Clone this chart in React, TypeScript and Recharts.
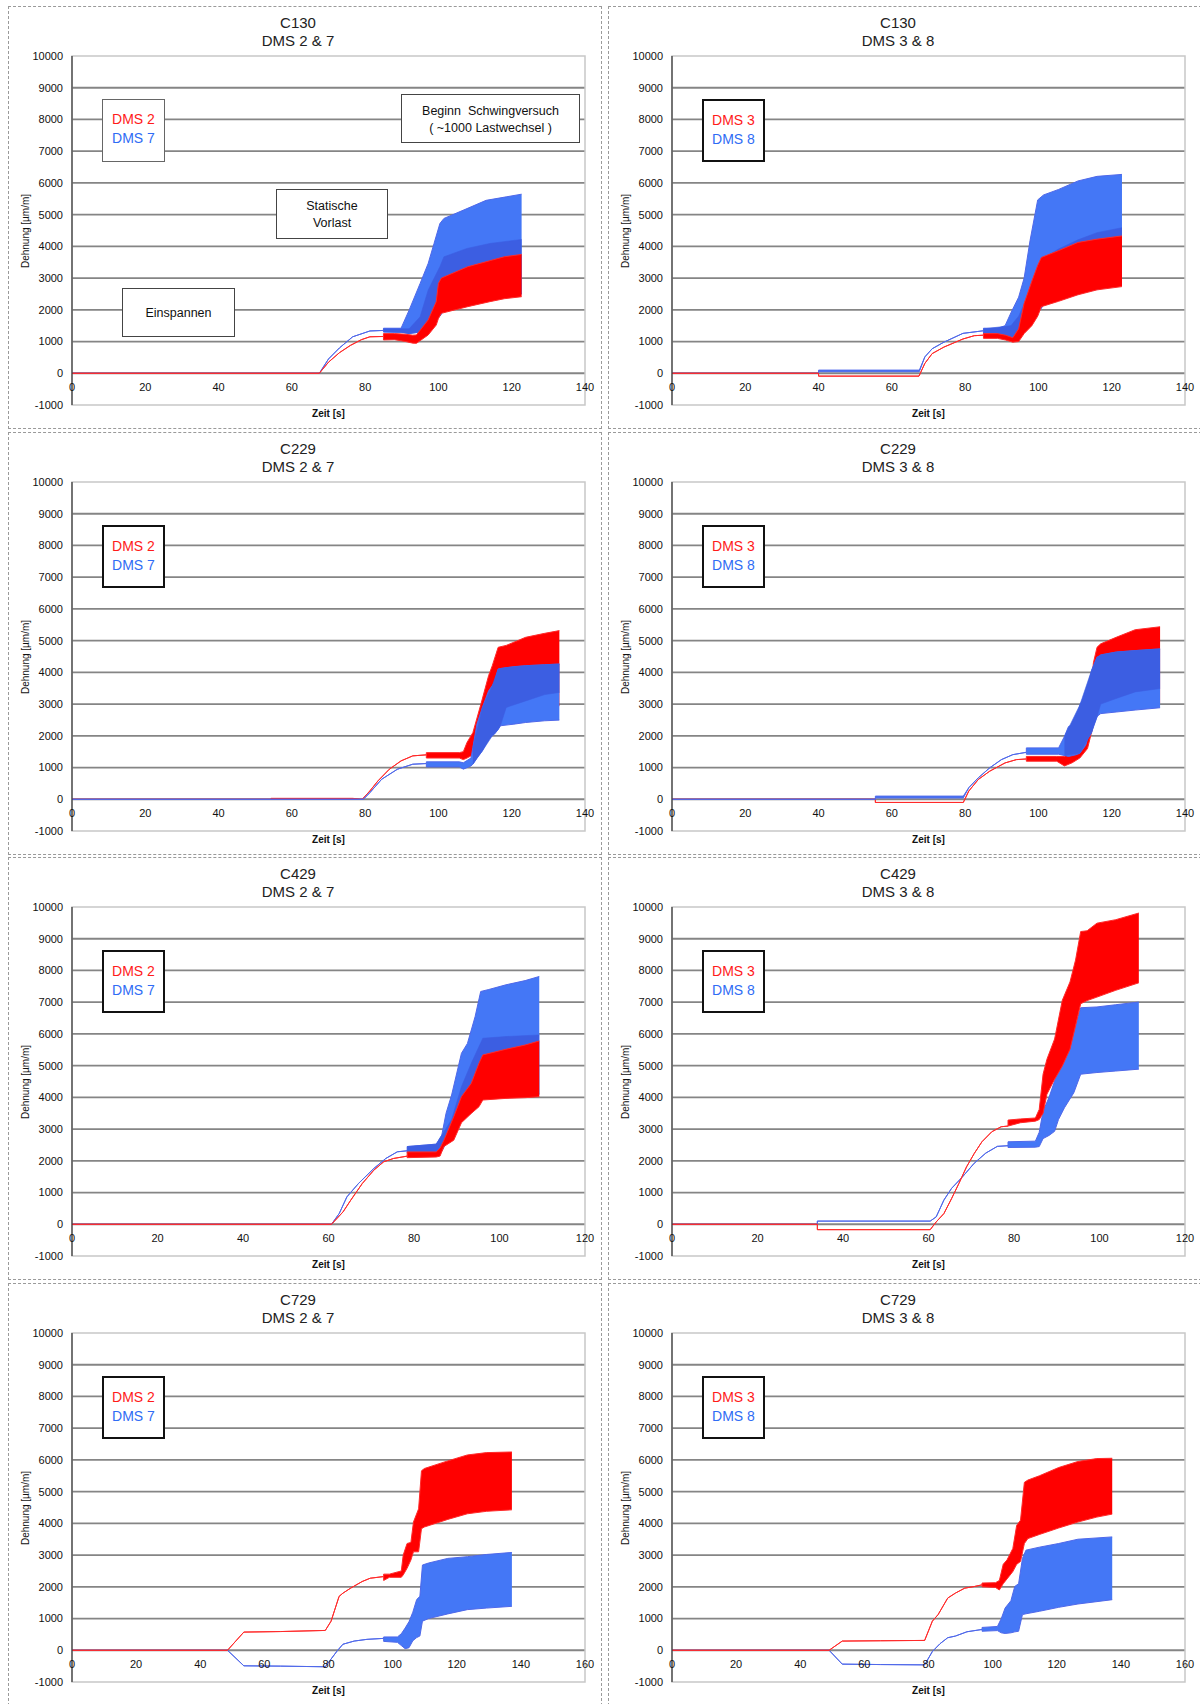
import React from "react";
import {
  ComposedChart,
  Area,
  XAxis,
  YAxis,
  CartesianGrid,
  ReferenceArea,
} from "recharts";

// [time s, lower strain, upper strain]  (lower == upper -> thin line)
type Pt = [number, number, number];

const Y_MIN = -1000;
const Y_MAX = 10000;
const Y_TICKS = [-1000, 0, 1000, 2000, 3000, 4000, 5000, 6000, 7000, 8000, 9000, 10000];
const GRID_VALUES = [0, 1000, 2000, 3000, 4000, 5000, 6000, 7000, 8000, 9000];
const X_TICKS_120 = [0, 20, 40, 60, 80, 100, 120];
const X_TICKS_140 = [0, 20, 40, 60, 80, 100, 120, 140];
const X_TICKS_160 = [0, 20, 40, 60, 80, 100, 120, 140, 160];

// ---- C130 DMS 2 & 7
const C130_27_RED: Pt[] = [
  [0, 0, 0], [67.5, 0, 0], [70, 350, 350], [73, 650, 650], [76, 880, 880], [79, 1060, 1060],
  [81.3, 1150, 1150], [85, 1160, 1160], [85, 1050, 1250], [88, 1060, 1250], [91, 1000, 1230],
  [93, 950, 1200], [94, 944, 1207], [97.2, 1207, 1680], [99.4, 1520, 2256], [100, 1730, 2833],
  [100.8, 1890, 3000], [108, 2100, 3358], [114, 2256, 3547], [118, 2350, 3673], [122.7, 2413, 3746],
];
const C130_27_BLUE: Pt[] = [
  [0, 0, 0], [67.5, 0, 0], [70, 450, 450], [73, 800, 800], [76.6, 1150, 1150], [81.3, 1333, 1333],
  [85, 1350, 1350], [85, 1300, 1420], [89.8, 1300, 1420], [92, 1250, 1990], [95, 1300, 2830],
  [97.2, 1400, 3460], [98.8, 1600, 4090], [100.4, 1800, 4720], [101.5, 2000, 4880],
  [107.8, 2200, 5190], [113, 2330, 5450], [118.5, 2450, 5560], [122.7, 2500, 5645],
];
const C130_27_DENSE: Pt[] = [
  [85, 1300, 1400], [90, 1280, 1400], [92, 1250, 1400], [95, 1300, 1780], [97.2, 1400, 2620],
  [100.4, 1800, 3360], [101.5, 2000, 3670], [107.8, 2200, 3935], [114, 2350, 4090], [122.7, 2500, 4218],
];

// ---- C130 DMS 3 & 8
const C130_38_RED: Pt[] = [
  [0, 0, 0], [40, 0, 0], [40, -90, -90], [67.4, -90, -90], [69, 310, 310], [71, 620, 620],
  [74.2, 825, 825], [79.4, 1080, 1080], [82.5, 1185, 1185], [85, 1200, 1200], [85, 1100, 1250],
  [88.8, 1100, 1250], [91, 1050, 1200], [93, 980, 1120], [94.6, 1000, 1400], [96.1, 1250, 2200],
  [98.2, 1500, 2900], [99.8, 1800, 3400], [100.8, 2100, 3650], [105.5, 2268, 3866],
  [110.8, 2474, 4124], [116, 2629, 4227], [122.8, 2732, 4330],
];
const C130_38_BLUE: Pt[] = [
  [0, 0, 0], [40, 0, 0], [40, 50, 100], [67.5, 50, 100], [69, 515, 515], [71, 773, 773],
  [74.2, 980, 980], [79.4, 1258, 1258], [85, 1340, 1340], [85, 1250, 1420], [89, 1250, 1420],
  [90.9, 1150, 1500], [92.5, 1100, 1907], [94.6, 1150, 2400], [96.1, 1350, 3000],
  [97.7, 1600, 4175], [99.8, 1900, 5464], [101.4, 2150, 5620], [105.5, 2300, 5794],
  [110.8, 2500, 6062], [116, 2650, 6206], [122.8, 2780, 6268],
];
const C130_38_DENSE: Pt[] = [
  [85, 1250, 1400], [92.5, 1100, 1500], [94.6, 1150, 1800], [97.7, 1600, 2600], [99.8, 1900, 3196],
  [101.4, 2150, 3629], [105.5, 2300, 3918], [110.8, 2500, 4206], [116, 2650, 4433], [122.8, 2780, 4588],
];

// ---- C229 DMS 2 & 7
const C229_27_RED: Pt[] = [
  [0, 0, 0], [54.3, 0, 0], [54.3, 0, 30], [76.6, 0, 30], [79.2, 0, 0], [81.3, 263, 263],
  [83.5, 579, 579], [86.6, 947, 947], [89.8, 1210, 1210], [93, 1368, 1368], [96.7, 1400, 1400],
  [96.7, 1300, 1470], [105.7, 1300, 1470], [106.8, 1250, 1500], [107.8, 1300, 1789],
  [109.4, 1400, 2100], [111.6, 1700, 3000], [113.7, 2100, 3900], [114.7, 2300, 4210],
  [116.3, 2600, 4790], [118.5, 2700, 4850], [123.8, 2800, 5105], [129, 2900, 5230], [133, 2950, 5316],
];
const C229_27_BLUE: Pt[] = [
  [0, 0, 0], [79.5, 0, 0], [81.3, 210, 210], [84.5, 630, 630], [88.8, 947, 947], [93, 1105, 1105],
  [96.7, 1126, 1126], [96.7, 1020, 1180], [105.7, 1020, 1180], [106.8, 950, 1150],
  [108.9, 1050, 1300], [109.4, 1105, 1630], [110.5, 1300, 2368], [112, 1526, 2895],
  [113.7, 1895, 3421], [114.7, 2000, 3579], [115.3, 2053, 3700], [116.3, 2200, 4105],
  [116.9, 2316, 4120], [120.6, 2368, 4180], [123.8, 2420, 4210], [129, 2474, 4240], [133, 2495, 4263],
];
const C229_27_DENSE: Pt[] = [
  [109.4, 1105, 1630], [112, 1526, 2895], [114.7, 2000, 3579], [116.3, 2200, 4105],
  [116.9, 2316, 4120], [118.5, 2895, 4150], [123.8, 3100, 4210], [129, 3300, 4240], [133, 3368, 4263],
];

// ---- C229 DMS 3 & 8
const C229_38_RED: Pt[] = [
  [0, 0, 0], [55.5, 0, 0], [55.5, -100, -100], [79.5, -100, -100], [81, 260, 260], [83.6, 625, 625],
  [86.7, 885, 885], [90.9, 1146, 1146], [94, 1250, 1250], [96.7, 1270, 1270], [96.7, 1200, 1350],
  [105, 1200, 1350], [107.1, 1050, 1350], [109.2, 1150, 1500], [111.3, 1300, 1700],
  [113.4, 1600, 2200], [115, 2343, 4300], [116, 2700, 4792], [117, 2800, 4900],
  [121.2, 2900, 5104], [126.4, 3000, 5344], [133.2, 3050, 5437],
];
const C229_38_BLUE: Pt[] = [
  [0, 0, 0], [55.5, 0, 0], [55.5, 40, 100], [79.5, 40, 100], [81, 365, 365], [83.6, 677, 677],
  [86.7, 990, 990], [89.9, 1250, 1250], [93, 1406, 1406], [96.7, 1480, 1480], [96.7, 1420, 1620],
  [105.5, 1420, 1620], [107.1, 1380, 1980], [108.2, 1350, 2290], [110.2, 1400, 2400],
  [111.3, 1450, 2970], [112.9, 1700, 3300], [113.4, 1900, 3500], [114.5, 2100, 4063],
  [115, 2290, 4200], [116, 2600, 4480], [116.5, 2656, 4500], [117, 2700, 4550],
  [121.2, 2750, 4640], [126.4, 2812, 4687], [133.2, 2885, 4740],
];
const C229_38_DENSE: Pt[] = [
  [107.1, 1380, 1980], [111.3, 1450, 2970], [114.5, 2100, 4063], [116, 2600, 4480],
  [117, 3000, 4550], [121.2, 3177, 4640], [126.4, 3385, 4687], [133.2, 3490, 4740],
];

// ---- C429 DMS 2 & 7
const C429_27_RED: Pt[] = [
  [0, 0, 0], [60.7, 0, 0], [63.4, 390, 390], [65.2, 758, 758], [67.9, 1284, 1284], [70.6, 1705, 1705],
  [72.9, 1968, 1968], [75.2, 2074, 2074], [78.4, 2147, 2147], [78.4, 2100, 2280], [85.2, 2120, 2280],
  [86.1, 2150, 2400], [87, 2450, 2650], [89.3, 2650, 3389], [91.1, 3200, 4021], [93.4, 3495, 4442],
  [95.2, 3705, 5074], [96.1, 3916, 5337], [101.5, 3968, 5516], [106, 3990, 5650], [109.3, 4021, 5779],
];
const C429_27_BLUE: Pt[] = [
  [0, 0, 0], [60.7, 0, 0], [62.5, 337, 337], [64.3, 863, 863], [67, 1284, 1284], [70.6, 1758, 1758],
  [73.4, 2074, 2074], [76.1, 2284, 2284], [78.4, 2316, 2316], [78.4, 2250, 2450], [85.2, 2250, 2526],
  [86.5, 2300, 2810], [87.5, 2550, 3500], [88.8, 2700, 4074], [91.1, 3300, 5389], [92.5, 3550, 5700],
  [94.3, 3750, 6547], [95.6, 3950, 7337], [97.5, 4000, 7400], [101.5, 4050, 7547],
  [106, 4080, 7680], [109.3, 4100, 7810],
];
const C429_27_DENSE: Pt[] = [
  [78.4, 2250, 2450], [85.2, 2250, 2526], [88.8, 2700, 3300], [91.1, 3300, 4337], [93.4, 3500, 5074],
  [96.1, 3950, 5863], [101.5, 4050, 5916], [109.3, 4100, 5968],
];

// ---- C429 DMS 3 & 8
const C429_38_RED: Pt[] = [
  [0, 0, 0], [34, 0, 0], [34, -170, -170], [60.4, -170, -170], [61.8, 74, 74], [63.6, 337, 337],
  [65.4, 810, 810], [67.1, 1284, 1284], [68.9, 1810, 1810], [70.7, 2231, 2231], [72.5, 2600, 2600],
  [74.8, 2916, 2916], [77, 3074, 3074], [78.6, 3095, 3095], [78.6, 3095, 3284], [81.5, 3200, 3320],
  [85, 3250, 3350], [85.9, 3300, 3620], [86.8, 3500, 4730], [87.7, 4100, 5200], [89.5, 4570, 5840],
  [91.3, 4990, 7058], [93.1, 5520, 7640], [94.4, 6260, 8328], [95.6, 6950, 9227], [97.1, 7050, 9250],
  [99.4, 7160, 9490], [103.8, 7375, 9600], [109.2, 7610, 9810],
];
const C429_38_BLUE: Pt[] = [
  [0, 0, 0], [34, 0, 0], [34, 100, 100], [60.4, 100, 100], [61.8, 233, 233], [63.6, 762, 762],
  [65.4, 1132, 1132], [68, 1502, 1502], [70.7, 1925, 1925], [73.4, 2243, 2243], [76.1, 2455, 2455],
  [78.6, 2476, 2476], [78.6, 2420, 2600], [85, 2430, 2620], [85.9, 2450, 2900], [86.8, 2700, 3566],
  [88.2, 2800, 4000], [89.5, 2930, 4518], [90.4, 3300, 5000], [91.8, 3672, 5630], [94, 4148, 6053],
  [95.6, 4730, 6825], [99.4, 4783, 6850], [103.8, 4830, 6920], [109.2, 4889, 7005],
];

// ---- C729 DMS 2 & 7
const C729_27_RED: Pt[] = [
  [0, 0, 0], [48.5, 0, 0], [53.6, 573, 573], [65, 590, 590], [79, 625, 625], [80.8, 917, 917],
  [83.3, 1698, 1698], [84.5, 1800, 1800], [86.9, 1958, 1958], [90.5, 2167, 2167], [93, 2271, 2271],
  [97.2, 2323, 2323], [97.2, 2200, 2400], [99, 2300, 2400], [102.7, 2300, 2500], [103.3, 2375, 3000],
  [104.5, 2583, 3365], [105.7, 2844, 3400], [106.5, 3104, 4042], [108.1, 3104, 4458],
  [109, 3833, 5656], [109.9, 3885, 5729], [117.2, 4125, 5969], [123.3, 4302, 6156],
  [129.3, 4380, 6230], [137.2, 4427, 6250],
];
const C729_27_BLUE: Pt[] = [
  [0, 0, 0], [48.5, 0, 0], [53.6, -490, -490], [65, -500, -500], [79, -520, -520], [82.7, -20, -20],
  [84.5, 190, 190], [88, 290, 290], [92, 344, 344], [97.2, 375, 375], [97.2, 280, 420],
  [101.5, 250, 420], [102.7, 150, 520], [103.9, 50, 700], [105.1, 80, 900], [106.3, 300, 1200],
  [107.5, 400, 1600], [108.5, 450, 1700], [109.3, 917, 2687], [111.2, 1000, 2750],
  [117.2, 1146, 2896], [123.3, 1281, 2950], [129.3, 1330, 3020], [137.2, 1385, 3083],
];

// ---- C729 DMS 3 & 8
const C729_38_RED: Pt[] = [
  [0, 0, 0], [49, 0, 0], [53.1, 290, 290], [65, 300, 300], [78.8, 310, 310], [81.2, 917, 917],
  [83, 1125, 1125], [86, 1646, 1646], [88.4, 1802, 1802], [91.3, 1958, 1958], [94.3, 2010, 2010],
  [96.7, 2062, 2062], [96.7, 2000, 2120], [100.9, 1980, 2130], [102.1, 1900, 2200],
  [103.3, 2100, 2708], [104.5, 2250, 2850], [106.3, 2479, 3208], [107.5, 2708, 3937],
  [108.7, 2800, 4100], [109.9, 3365, 5292], [111, 3520, 5365], [114.6, 3650, 5500],
  [120.6, 3854, 5760], [126.6, 4042, 5950], [132.5, 4198, 6042], [137.3, 4292, 6052],
];
const C729_38_BLUE: Pt[] = [
  [0, 0, 0], [49, 0, 0], [53.1, -437, -437], [65, -450, -450], [78.8, -460, -460], [81.2, -40, -40],
  [83.6, 208, 208], [86, 396, 396], [88.4, 448, 448], [92, 583, 583], [96.7, 656, 656],
  [96.7, 600, 720], [101.5, 620, 750], [102.7, 550, 1000], [103.9, 530, 1333], [105.7, 550, 1562],
  [106.9, 580, 2010], [108.1, 600, 2100], [109.3, 1125, 2896], [110.4, 1150, 3156],
  [114.6, 1229, 3250], [120.6, 1354, 3365], [126.6, 1458, 3500], [137.3, 1594, 3573],
];

const RED = "#ff0000";
const RED_LINE = "#ff2a2a";
const BLUE = "#4477f6";
const BLUE_LINE = "#4f68ea";
const BLUE_DENSE = "#3c5ee2";
const FONT = '"Liberation Sans", Arial, sans-serif';

const W = 594;
const H = 423;
const PLOT_TOP = 50;
const PLOT_H = 349;
const PLOT_W = 513;
const Y_AXIS_W = 64;
const ZERO_UP = (PLOT_H * (0 - Y_MIN)) / (Y_MAX - Y_MIN);

type PanelDef = {
  title: string;
  sub: string;
  left: number;
  top: number;
  xMax: number;
  xTicks: number[];
  red: Pt[];
  blue: Pt[];
  dense?: Pt[];
  redName: string;
  blueName: string;
  redOnTop: boolean;
  notes?: boolean;
};

const ROW_TOPS = [6, 432, 857, 1283];
const COL_LEFTS = [8, 608];

const PANELS: PanelDef[] = [
  { title: "C130", sub: "DMS 2 & 7", left: COL_LEFTS[0], top: ROW_TOPS[0], xMax: 140, xTicks: X_TICKS_140, red: C130_27_RED, blue: C130_27_BLUE, dense: C130_27_DENSE, redName: "DMS 2", blueName: "DMS 7", redOnTop: true, notes: true },
  { title: "C130", sub: "DMS 3 & 8", left: COL_LEFTS[1], top: ROW_TOPS[0], xMax: 140, xTicks: X_TICKS_140, red: C130_38_RED, blue: C130_38_BLUE, dense: C130_38_DENSE, redName: "DMS 3", blueName: "DMS 8", redOnTop: true },
  { title: "C229", sub: "DMS 2 & 7", left: COL_LEFTS[0], top: ROW_TOPS[1], xMax: 140, xTicks: X_TICKS_140, red: C229_27_RED, blue: C229_27_BLUE, dense: C229_27_DENSE, redName: "DMS 2", blueName: "DMS 7", redOnTop: false },
  { title: "C229", sub: "DMS 3 & 8", left: COL_LEFTS[1], top: ROW_TOPS[1], xMax: 140, xTicks: X_TICKS_140, red: C229_38_RED, blue: C229_38_BLUE, dense: C229_38_DENSE, redName: "DMS 3", blueName: "DMS 8", redOnTop: false },
  { title: "C429", sub: "DMS 2 & 7", left: COL_LEFTS[0], top: ROW_TOPS[2], xMax: 120, xTicks: X_TICKS_120, red: C429_27_RED, blue: C429_27_BLUE, dense: C429_27_DENSE, redName: "DMS 2", blueName: "DMS 7", redOnTop: true },
  { title: "C429", sub: "DMS 3 & 8", left: COL_LEFTS[1], top: ROW_TOPS[2], xMax: 120, xTicks: X_TICKS_120, red: C429_38_RED, blue: C429_38_BLUE, redName: "DMS 3", blueName: "DMS 8", redOnTop: true },
  { title: "C729", sub: "DMS 2 & 7", left: COL_LEFTS[0], top: ROW_TOPS[3], xMax: 160, xTicks: X_TICKS_160, red: C729_27_RED, blue: C729_27_BLUE, redName: "DMS 2", blueName: "DMS 7", redOnTop: true },
  { title: "C729", sub: "DMS 3 & 8", left: COL_LEFTS[1], top: ROW_TOPS[3], xMax: 160, xTicks: X_TICKS_160, red: C729_38_RED, blue: C729_38_BLUE, redName: "DMS 3", blueName: "DMS 8", redOnTop: true },
];

const toRows = (pts: Pt[]) => pts.map(([t, lo, hi]) => ({ t, v: [lo, hi] }));

function XTick(props: any) {
  const { x, y, payload } = props;
  return (
    <text x={x} y={y - ZERO_UP + 18} textAnchor="middle" fontSize={11} fill="#111" fontFamily={FONT}>
      {payload.value}
    </text>
  );
}

const noteBox: React.CSSProperties = {
  position: "absolute",
  background: "#fff",
  border: "1.5px solid #444",
  boxSizing: "border-box",
  textAlign: "center",
  fontSize: 12.5,
  lineHeight: "17px",
  color: "#111",
  whiteSpace: "pre",
};

function Panel({ p }: { p: PanelDef }) {
  const band = (key: string, pts: Pt[], fill: string, stroke: string, sw: number) => (
    <Area
      key={key}
      data={toRows(pts)}
      dataKey="v"
      type="linear"
      stroke={stroke}
      strokeWidth={sw}
      fill={fill}
      fillOpacity={1}
      connectNulls
      dot={false}
      activeDot={false}
      isAnimationActive={false}
    />
  );
  const blueItems = [band("blue", p.blue, BLUE, BLUE_LINE, 1)];
  if (p.dense) blueItems.push(band("dense", p.dense, BLUE_DENSE, BLUE_DENSE, 0.6));
  const redItems = [band("red", p.red, RED, RED_LINE, 1)];
  const items = p.redOnTop ? [...blueItems, ...redItems] : [...redItems, ...blueItems];

  return (
    <div style={{ position: "absolute", left: p.left, top: p.top, width: W, height: H, fontFamily: FONT }}>
      <div
        style={{
          position: "absolute",
          left: 0,
          top: 0,
          width: W,
          height: H,
          border: "1px dashed #9a9a9a",
          boxSizing: "border-box",
        }}
      />
      <ComposedChart width={W} height={H} margin={{ top: PLOT_TOP, right: W - Y_AXIS_W - PLOT_W, bottom: 0, left: 0 }}>
        <ReferenceArea x1={0} x2={p.xMax} y1={Y_MIN} y2={Y_MAX} fill="none" stroke="#c8c8c8" strokeWidth={1.5} />
        <CartesianGrid
          vertical={false}
          stroke="#858585"
          strokeWidth={1.8}
          horizontalCoordinatesGenerator={({ offset }: any) =>
            GRID_VALUES.map((v) => offset.top + (offset.height * (Y_MAX - v)) / (Y_MAX - Y_MIN))
          }
        />
        <XAxis
          type="number"
          dataKey="t"
          domain={[0, p.xMax]}
          ticks={p.xTicks}
          interval={0}
          allowDataOverflow
          axisLine={false}
          tickLine={false}
          tickSize={0}
          tickMargin={0}
          height={H - PLOT_TOP - PLOT_H}
          tick={(props: any) => <XTick {...props} />}
        />
        <YAxis
          type="number"
          domain={[Y_MIN, Y_MAX]}
          ticks={Y_TICKS}
          interval={0}
          allowDataOverflow
          width={Y_AXIS_W}
          axisLine={{ stroke: "#333", strokeWidth: 1.2 }}
          tickLine={false}
          tickSize={4}
          tickMargin={5}
          tick={{ fontSize: 11, fill: "#111", fontFamily: FONT }}
        />
        {items}
      </ComposedChart>

      <div style={{ position: "absolute", left: 0, top: 8, width: 580, textAlign: "center", fontSize: 15, lineHeight: "18px", color: "#222" }}>
        <div>{p.title}</div>
        <div>{p.sub}</div>
      </div>

      <div
        style={{
          position: "absolute",
          left: 17,
          top: PLOT_TOP + PLOT_H / 2,
          transform: "translate(-50%, -50%) rotate(-90deg)",
          fontSize: 10,
          color: "#111",
          whiteSpace: "nowrap",
        }}
      >
        Dehnung [µm/m]
      </div>
      <div
        style={{
          position: "absolute",
          left: Y_AXIS_W + PLOT_W / 2,
          top: PLOT_TOP + PLOT_H + 8,
          transform: "translate(-50%, -50%)",
          fontSize: 10,
          fontWeight: "bold",
          color: "#111",
          whiteSpace: "nowrap",
        }}
      >
        Zeit [s]
      </div>

      <div
        style={{
          position: "absolute",
          left: 94,
          top: 93,
          width: 63,
          height: 63,
          background: "#fff",
          border: p.notes ? "1.5px solid #666" : "2px solid #111",
          boxSizing: "border-box",
          textAlign: "center",
          fontSize: 14,
          lineHeight: "19px",
          paddingTop: 10,
        }}
      >
        <div style={{ color: "#ff1a1a" }}>{p.redName}</div>
        <div style={{ color: "#2f6cf5" }}>{p.blueName}</div>
      </div>

      {p.notes && (
        <>
          <div style={{ ...noteBox, left: 393, top: 88, width: 179, height: 49, paddingTop: 8 }}>
            {"Beginn  Schwingversuch\n( ~1000 Lastwechsel )"}
          </div>
          <div style={{ ...noteBox, left: 268, top: 183, width: 112, height: 50, paddingTop: 8 }}>
            {"Statische\nVorlast"}
          </div>
          <div style={{ ...noteBox, left: 114, top: 282, width: 113, height: 49, paddingTop: 16 }}>
            {"Einspannen"}
          </div>
        </>
      )}
    </div>
  );
}

export default function App() {
  return (
    <div style={{ position: "absolute", left: 0, top: 0, width: 1200, height: 1704, overflow: "hidden", background: "#fff" }}>
      {PANELS.map((p, i) => (
        <Panel key={i} p={p} />
      ))}
    </div>
  );
}
